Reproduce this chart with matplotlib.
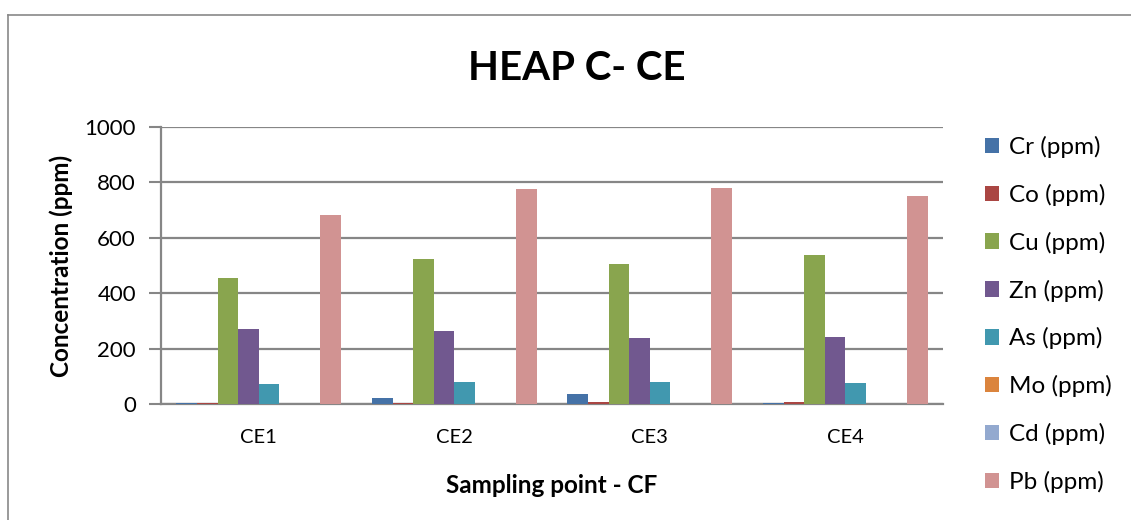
import matplotlib
matplotlib.use("Agg")
import matplotlib.pyplot as plt
import numpy as np
from matplotlib.lines import Line2D
from matplotlib.patches import Patch

plt.rcParams['font.family'] = ['Lato', 'DejaVu Sans']

categories = ["CE1", "CE2", "CE3", "CE4"]
series_names = ["Cr (ppm)", "Co (ppm)", "Cu (ppm)", "Zn (ppm)",
                "As (ppm)", "Mo (ppm)", "Cd (ppm)", "Pb (ppm)"]
cr = [4, 24, 35, 4]
co = [6, 6, 7, 7]
cu = [455, 522, 505, 537]
zn = [270, 263, 239, 241]
as_ = [72, 80, 81, 78]
mo = [1.5, 1.5, 1.5, 1.5]
cd = [0.5, 0.5, 0.5, 0.5]
pb = [682, 775, 779, 751]
series_values = [cr, co, cu, zn, as_, mo, cd, pb]
colors = ["#4572A7", "#AA4643", "#89A54E", "#71588F",
          "#4198AF", "#DB843D", "#93A9CF", "#D19392"]

fig = plt.figure(figsize=(11.31, 5.2), dpi=100)
ax = fig.add_axes([161 / 1131, 1 - 404.2 / 520, (943 - 161) / 1131, (404.2 - 126.7) / 520])

n = len(series_names)
w = 1.0 / (n + 1.5)
x = np.arange(len(categories))
for i, (vals, c) in enumerate(zip(series_values, colors)):
    ax.bar(x + (i - (n - 1) / 2) * w, vals, width=w, color=c,
           edgecolor="none", zorder=3)

ax.set_xlim(-0.5, len(categories) - 0.5)
ax.set_ylim(0, 1000)
ax.set_yticks(np.arange(0, 1001, 200))
ax.set_xticks(x)
ax.set_xticklabels(categories, fontsize=14.5)
ax.tick_params(axis='x', length=0, pad=18)
ax.tick_params(axis='y', length=9, width=1.5, color="#868686", labelsize=16, pad=9)
ax.grid(axis='y', color="#868686", linewidth=1.6, zorder=0)
for s in ["top", "right"]:
    ax.spines[s].set_visible(False)
for s in ["left", "bottom"]:
    ax.spines[s].set_color("#868686")
    ax.spines[s].set_linewidth(1.6)

ax.set_xlabel("Sampling point - CF", fontsize=17.5, fontweight="bold", labelpad=20)
ax.set_ylabel("Concentration (ppm)", fontsize=17.5, fontweight="bold", labelpad=8)
fig.text(577 / 1131, 1 - 68 / 520, "HEAP C- CE", fontsize=29, fontweight="bold",
         ha="center", va="center")

handles = [Patch(facecolor=c, edgecolor="none") for c in colors]
fig.legend(handles, series_names, loc="upper left",
           bbox_to_anchor=(963 / 1131, 1 - 114 / 520), frameon=False,
           fontsize=17.5, handlelength=0.6, handleheight=0.6,
           handletextpad=0.4, labelspacing=1.06)

# chart frame
fig.add_artist(Line2D([8 / 1131, 8 / 1131], [0, 1 - 15 / 520], color="#898989",
                      linewidth=1.2, transform=fig.transFigure))
fig.add_artist(Line2D([8 / 1131, 1], [1 - 15 / 520, 1 - 15 / 520], color="#898989",
                      linewidth=1.2, transform=fig.transFigure))

fig.savefig("out.png", dpi=100)
